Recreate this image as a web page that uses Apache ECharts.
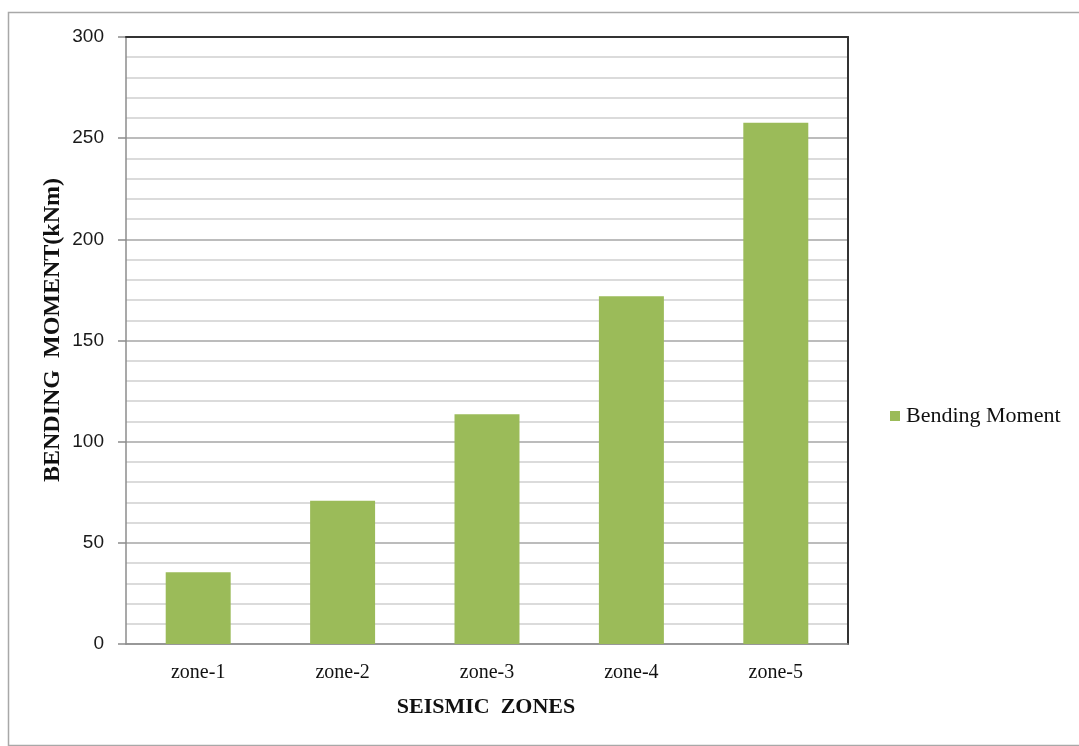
<!DOCTYPE html>
<html>
<head>
<meta charset="utf-8">
<script src="https://cdn.jsdelivr.net/npm/echarts@6/dist/echarts.min.js"></script>
<style>
  html, body { margin: 0; padding: 0; background: #fff; }
  #chart { width: 1079px; height: 746px; }
</style>
</head>
<body>
<div id="chart"></div>
<script>
// Bending moment per seismic zone (kNm)
const zones = ['zone-1', 'zone-2', 'zone-3', 'zone-4', 'zone-5'];
const bendingMoment = [35.4, 70.8, 113.6, 171.9, 257.6];
const seriesName = 'Bending Moment';
const yTitle = 'BENDING  MOMENT(kNm)';
const xTitle = 'SEISMIC  ZONES';

const serif = '"Liberation Serif", "DejaVu Serif", serif';
const sans = '"Liberation Sans", "Open Sans", sans-serif';

const chart = echarts.init(document.getElementById('chart'), null, { renderer: 'canvas' });

chart.setOption({
  backgroundColor: '#ffffff',
  animation: false,
  grid: { left: 126, top: 37, width: 722, height: 607 },
  legend: {
    show: true,
    left: 885,
    top: 400,
    orient: 'vertical',
    icon: 'rect',
    itemWidth: 10,
    itemHeight: 10,
    itemGap: 6,
    textStyle: { fontFamily: serif, fontSize: 22, color: '#111', padding: [0, 0, 0, 1] },
    data: [seriesName]
  },
  xAxis: [
    {
      type: 'category',
      data: zones,
      axisLine: { lineStyle: { color: '#8c8c8c', width: 1.5 } },
      axisTick: { show: false },
      axisLabel: { fontFamily: serif, fontSize: 20, color: '#111', margin: 19 }
    },
    {
      // plot-area frame along the top edge
      type: 'category',
      position: 'top',
      data: zones,
      axisLine: { onZero: false, lineStyle: { color: '#333333', width: 2 } },
      axisTick: { show: false },
      axisLabel: { show: false },
      z: 5
    }
  ],
  yAxis: [
    {
      type: 'value',
      min: 0,
      max: 300,
      interval: 50,
      axisLine: { show: true, lineStyle: { color: '#8c8c8c', width: 1.5 } },
      axisTick: { show: true, length: 8, lineStyle: { color: '#8c8c8c', width: 1.5 } },
      axisLabel: { fontFamily: sans, fontSize: 19, color: '#1a1a1a', margin: 22 },
      splitLine: { show: true, lineStyle: { color: '#a6a6a6', width: 1.5 } },
      minorTick: { show: false, splitNumber: 5 },
      minorSplitLine: { show: true, lineStyle: { color: '#cfcfcf', width: 1.5 } }
    },
    {
      // plot-area frame along the right edge
      type: 'value',
      position: 'right',
      min: 0,
      max: 300,
      interval: 50,
      axisLine: { show: true, onZero: false, lineStyle: { color: '#333333', width: 2 } },
      axisTick: { show: false },
      axisLabel: { show: false },
      splitLine: { show: false }
    }
  ],
  series: [{
    name: seriesName,
    type: 'bar',
    data: bendingMoment,
    barWidth: '45%',
    itemStyle: { color: '#9BBB59' }
  }],
  graphic: [
    {
      type: 'rect',
      left: 6, top: 10,
      shape: { width: 1090, height: 733 },
      style: { fill: 'none', stroke: '#a8a8a8', lineWidth: 1.5 },
      silent: true
    },
    {
      type: 'text',
      x: 53, y: 330,
      rotation: Math.PI / 2,
      style: {
        text: yTitle,
        fontFamily: serif, fontSize: 24, fontWeight: 'bold', fill: '#111',
        align: 'center', verticalAlign: 'middle'
      }
    },
    {
      type: 'text',
      x: 486, y: 707,
      style: {
        text: xTitle,
        fontFamily: serif, fontSize: 22, fontWeight: 'bold', fill: '#111',
        align: 'center', verticalAlign: 'middle'
      }
    }
  ]
});
</script>
</body>
</html>
